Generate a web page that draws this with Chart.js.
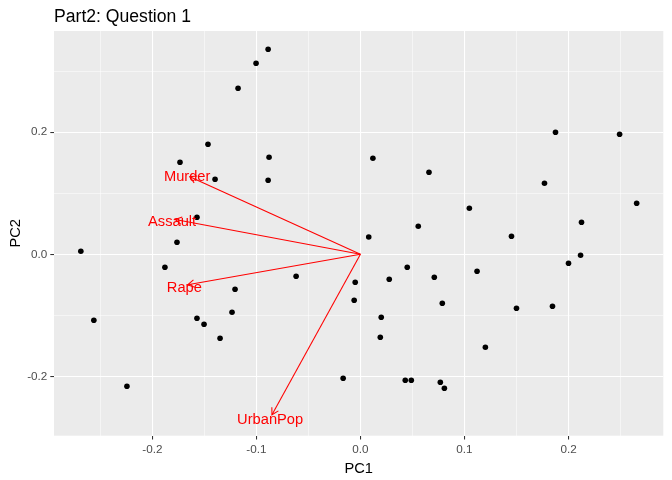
<!DOCTYPE html>
<html>
<head>
<meta charset="utf-8">
<script src="https://cdn.jsdelivr.net/npm/chart.js@4/dist/chart.umd.min.js"></script>
<style>
html,body{margin:0;padding:0;background:#fff;}
#wrap{width:672px;height:480px;}
</style>
</head>
<body>
<div id="wrap"><canvas id="c" width="672" height="480"></canvas></div>
<script>
// ---- data ----
const chartTitle = "Part2: Question 1";
const xTitle = "PC1";
const yTitle = "PC2";
const pc1 = [-0.0887,-0.1003,-0.1176,-0.1465,-0.0878,-0.1734,-0.1397,-0.0887,-0.1571,0.0080,
  0.0120,0.0659,0.1875,0.2491,0.1769,0.2655,0.1047,0.2125,0.0556,0.1452,
  -0.2687,-0.1763,-0.1879,-0.0618,-0.1205,-0.0050,-0.0060,-0.2562,-0.1234,-0.1571,
  -0.1503,-0.1349,-0.2244,-0.0166,0.0450,0.0277,0.0710,0.0787,0.1121,0.1500,
  0.1846,0.2000,0.2116,0.0200,0.0191,0.1201,0.0431,0.0489,0.0768,0.0807];
const pc2 = [0.3361,0.3131,0.2722,0.1803,0.1590,0.1508,0.1230,0.1213,0.0607,0.0284,
  0.1574,0.1344,0.2000,0.1967,0.1164,0.0836,0.0754,0.0525,0.0459,0.0295,
  0.0049,0.0197,-0.0213,-0.0360,-0.0574,-0.0459,-0.0754,-0.1082,-0.0951,-0.1049,
  -0.1148,-0.1377,-0.2164,-0.2033,-0.0213,-0.0410,-0.0377,-0.0803,-0.0279,-0.0885,
  -0.0852,-0.0148,-0.0016,-0.1033,-0.1361,-0.1525,-0.2066,-0.2066,-0.2098,-0.2197];
const varNames = ["Murder","Assault","Rape","UrbanPop"];
const loadX = [-0.164,-0.178,-0.166,-0.085];
const loadY = [0.127,0.057,-0.050,-0.263];
const labelX = [-0.1665,-0.181,-0.1692,-0.0868];
const labelY = [0.126,0.0536,-0.0546,-0.2718];
const xMajor = [-0.2,-0.1,0.0,0.1,0.2];
const xMinor = [-0.25,-0.15,-0.05,0.05,0.15,0.25];
const yMajor = [-0.2,0.0,0.2];
const yMinor = [-0.1,0.1,0.3];
const xLimits = [-0.2945,0.2911];
const yLimits = [-0.2974,0.3660];

const FONT = "'Liberation Sans', Arial, sans-serif";
const isMajor = (list, v) => list.some(m => Math.abs(m - v) < 1e-9);

const scatterData = pc1.map((x,i)=>({x:x,y:pc2[i]}));
const arrowSets = varNames.map((n,i)=>({
  type:'line', label:n,
  data:[{x:0,y:0},{x:loadX[i],y:loadY[i]}],
  borderColor:'#FF0000', borderWidth:1.07, pointRadius:0, showLine:true, fill:false, order:1
}));

const decor = {
  id:'decor',
  beforeDraw(chart){
    const {ctx, chartArea:a} = chart;
    ctx.save();
    ctx.fillStyle = '#EBEBEB';
    ctx.fillRect(a.left, a.top, a.right-a.left, a.bottom-a.top);
    ctx.restore();
  },
  afterDatasetsDraw(chart){
    const {ctx, scales:{x,y}} = chart;
    ctx.save();
    ctx.strokeStyle = '#FF0000';
    ctx.lineWidth = 1.07;
    for(let i=0;i<varNames.length;i++){
      const x0 = x.getPixelForValue(0), y0 = y.getPixelForValue(0);
      const x1 = x.getPixelForValue(loadX[i]), y1 = y.getPixelForValue(loadY[i]);
      const ang = Math.atan2(y1-y0, x1-x0);
      const L = 7.5, th = Math.PI/6;
      ctx.beginPath();
      ctx.moveTo(x1 - L*Math.cos(ang-th), y1 - L*Math.sin(ang-th));
      ctx.lineTo(x1, y1);
      ctx.lineTo(x1 - L*Math.cos(ang+th), y1 - L*Math.sin(ang+th));
      ctx.stroke();
    }
    ctx.fillStyle = '#FF0000';
    ctx.font = '14.67px ' + FONT;
    ctx.textAlign = 'center';
    ctx.textBaseline = 'middle';
    for(let i=0;i<varNames.length;i++){
      ctx.fillText(varNames[i], x.getPixelForValue(labelX[i]), y.getPixelForValue(labelY[i]));
    }
    ctx.restore();
  },
  afterDraw(chart){
    const {ctx, chartArea:a} = chart;
    ctx.save();
    ctx.fillStyle = '#000';
    ctx.font = '17.6px ' + FONT;
    ctx.textAlign = 'left';
    ctx.textBaseline = 'alphabetic';
    ctx.fillText(chartTitle, a.left, 22);
    ctx.font = '14.67px ' + FONT;
    ctx.textAlign = 'center';
    ctx.fillText(xTitle, (a.left+a.right)/2, 473.3);
    ctx.translate(19.8, (a.top+a.bottom)/2);
    ctx.rotate(-Math.PI/2);
    ctx.fillText(yTitle, 0, 0);
    ctx.restore();
  }
};

new Chart(document.getElementById('c'), {
  type:'scatter',
  data:{
    datasets:[
      {label:'states', data:scatterData, backgroundColor:'#000', borderColor:'#000',
       pointRadius:2.8, pointBorderWidth:0, pointHoverRadius:2.8, order:2},
      ...arrowSets
    ]
  },
  options:{
    responsive:false,
    animation:false,
    devicePixelRatio:1,
    layout:{padding:{left:0, top:31, right:8.7, bottom:0}},
    plugins:{legend:{display:false}, title:{display:false}, tooltip:{enabled:false}},
    scales:{
      x:{
        type:'linear', min:xLimits[0], max:xLimits[1],
        afterBuildTicks(s){ s.ticks = xMajor.concat(xMinor).sort((a,b)=>a-b).map(v=>({value:v})); },
        afterFit(s){ s.height = 480 - 435.7; },
        border:{display:false},
        grid:{
          color:'#FFFFFF',
          lineWidth:(c)=> isMajor(xMajor, c.tick.value) ? 1.07 : 0.53,
          drawTicks:true, tickLength:3.7,
          tickColor:(c)=> isMajor(xMajor, c.tick.value) ? '#333333' : 'rgba(0,0,0,0)',
          tickWidth:1.07
        },
        ticks:{
          autoSkip:false, maxRotation:0, padding:3,
          color:'#4D4D4D', font:{family:FONT, size:11.7},
          callback:(v)=> isMajor(xMajor, v) ? Number(v).toFixed(1) : ''
        }
      },
      y:{
        type:'linear', min:yLimits[0], max:yLimits[1],
        afterBuildTicks(s){ s.ticks = yMajor.concat(yMinor).sort((a,b)=>a-b).map(v=>({value:v})); },
        afterFit(s){ s.width = 54; },
        border:{display:false},
        grid:{
          color:'#FFFFFF',
          lineWidth:(c)=> isMajor(yMajor, c.tick.value) ? 1.07 : 0.53,
          drawTicks:true, tickLength:3.7,
          tickColor:(c)=> isMajor(yMajor, c.tick.value) ? '#333333' : 'rgba(0,0,0,0)',
          tickWidth:1.07
        },
        ticks:{
          autoSkip:false, padding:3,
          color:'#4D4D4D', font:{family:FONT, size:11.7},
          callback:(v)=> isMajor(yMajor, v) ? Number(v).toFixed(1) : ''
        }
      }
    }
  },
  plugins:[decor]
});
</script>
</body>
</html>
